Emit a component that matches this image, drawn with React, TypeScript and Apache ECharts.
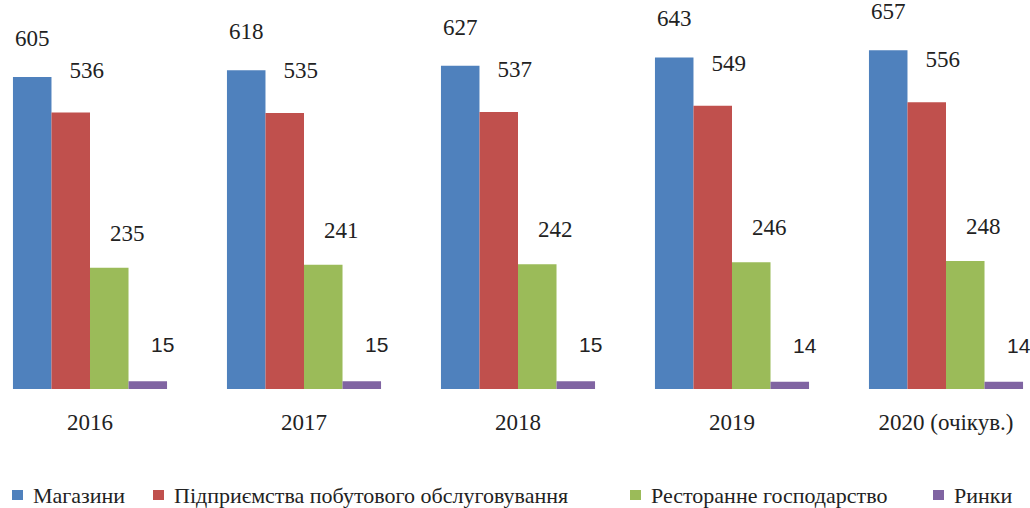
import React, { useEffect, useRef } from "react";
import * as echarts from "echarts";

const categories = ["2016", "2017", "2018", "2019", "2020 (очікув.)"];
const seriesNames = [
  "Магазини",
  "Підприємства побутового обслуговування",
  "Ресторанне господарство",
  "Ринки",
];
const shops = [605, 618, 627, 643, 657];
const services = [536, 535, 537, 549, 556];
const restaurants = [235, 241, 242, 246, 248];
const markets = [15, 15, 15, 14, 14];

const colors = ["#4F81BD", "#C0504D", "#9BBB59", "#8064A2"];
const serif = "Liberation Serif, serif";
const sans = "Liberation Sans, sans-serif";
const SHIFT = 17;

export default function App() {
  const ref = useRef<HTMLDivElement>(null);
  useEffect(() => {
    if (!ref.current) return;
    const chart = echarts.init(ref.current, undefined, { renderer: "svg" });
    const values = [shops, services, restaurants, markets];
    const labelCfg = [
      { offset: [0, 0], distance: 27, font: serif, size: 23 },
      { offset: [16, 0], distance: 31, font: serif, size: 23 },
      { offset: [18, 0], distance: 23, font: serif, size: 23 },
      { offset: [15, 0], distance: 26, font: sans, size: 21 },
    ];
    const legendLefts = [12, 153, 630, 933];
    chart.setOption({
      animation: false,
      backgroundColor: "#ffffff",
      textStyle: { fontFamily: serif },
      grid: { left: 0, width: 1070, top: 28, height: 361 },
      xAxis: {
        type: "category",
        data: categories,
        axisLine: { show: false },
        axisTick: { show: false },
        axisLabel: {
          margin: 22,
          fontFamily: serif,
          fontSize: 23,
          color: "#222",
        },
      },
      yAxis: {
        type: "value",
        min: 0,
        max: 700,
        show: false,
        splitLine: { show: false },
      },
      legend: seriesNames.map((n, i) => ({
        data: [n],
        left: legendLefts[i] + SHIFT,
        top: 484,
        itemWidth: 11,
        itemHeight: 10,
        icon: "rect",
        itemGap: 0,
        padding: 0,
        formatter: "{t|{name}}",
        textStyle: {
          fontFamily: serif,
          fontSize: 22,
          color: "#222",
          rich: { t: { fontFamily: serif, fontSize: 22, color: "#222", padding: [0, 0, 0, 5] } },
        },
      })),
      series: seriesNames.map((n, i) => ({
        name: n,
        type: "bar",
        data: values[i],
        barGap: "0%",
        barCategoryGap: "28%",
        itemStyle: { color: colors[i] },
        label: {
          show: true,
          position: "top",
          distance: labelCfg[i].distance,
          offset: labelCfg[i].offset,
          formatter: "{v|{c}}",
          fontFamily: labelCfg[i].font,
          fontSize: labelCfg[i].size,
          color: "#222",
          rich: { v: { fontFamily: labelCfg[i].font, fontSize: labelCfg[i].size, color: "#222" } },
        },
      })),
    });
    return () => chart.dispose();
  }, []);
  return (
    <div
      style={{ position: "fixed", left: 0, top: 0, width: 1030, height: 508, overflow: "hidden", background: "#fff" }}
    >
      <div
        ref={ref}
        style={{ position: "absolute", left: -SHIFT, top: 0, width: 1075, height: 508 }}
      />
    </div>
  );
}
